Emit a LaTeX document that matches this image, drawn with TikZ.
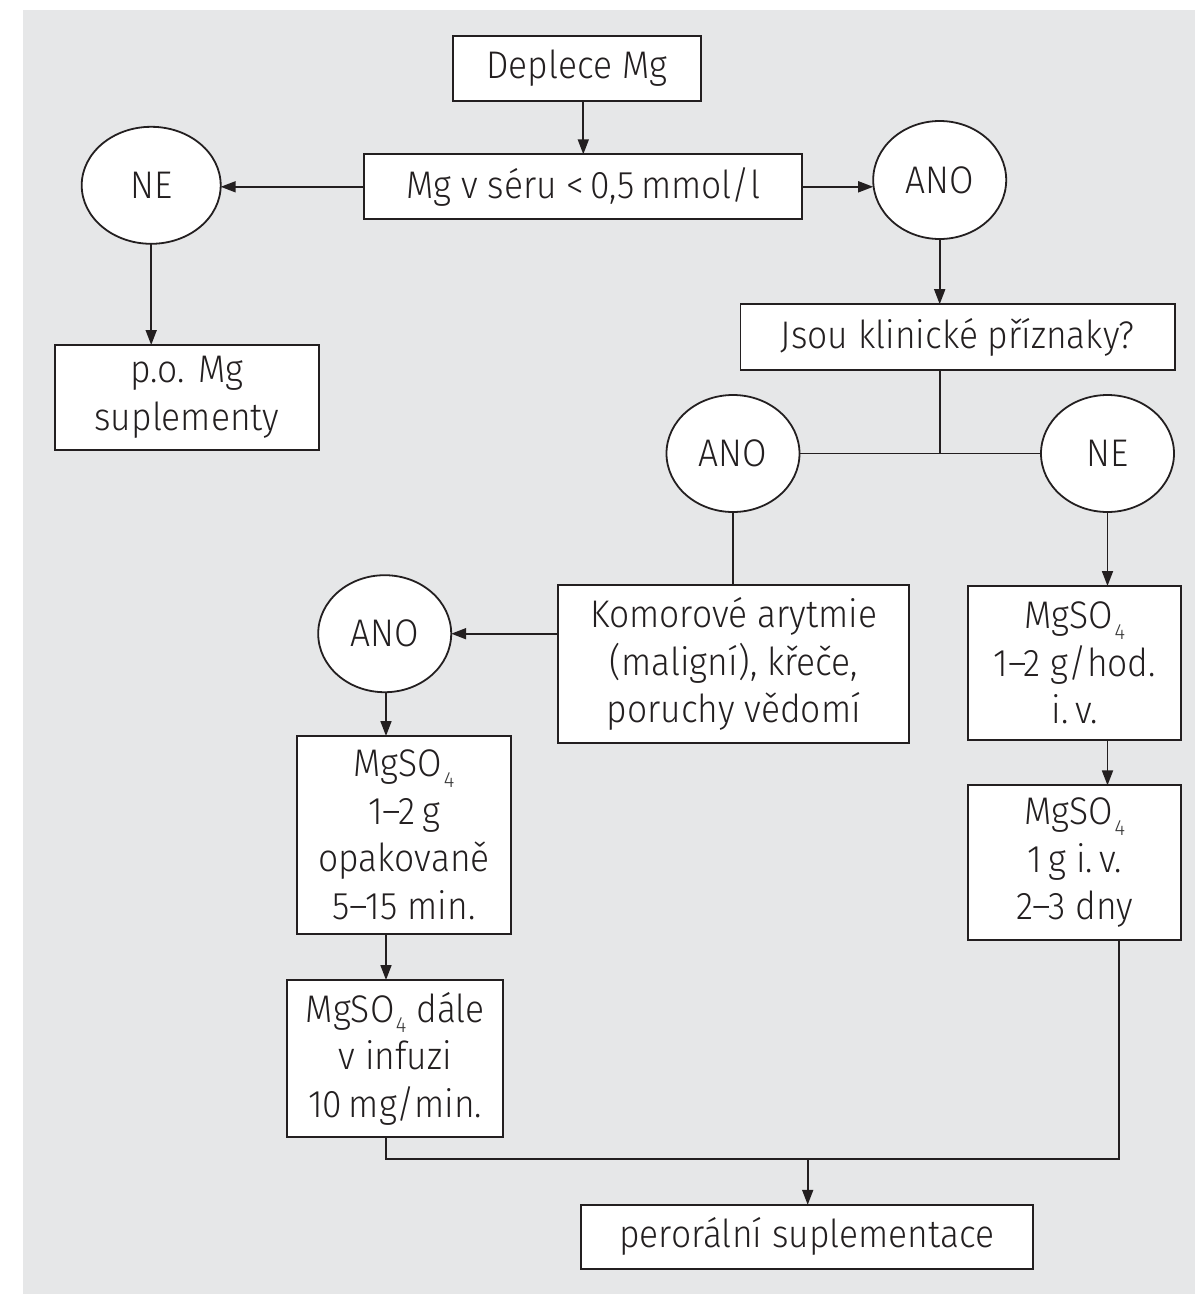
\documentclass[tikz,border=0pt]{standalone}
\usepackage{fontspec}
\setmainfont{Fira Sans Light}[FakeStretch=0.92]
\usetikzlibrary{arrows.meta,shapes.geometric,calc}
\definecolor{panelgray}{RGB}{230,231,232}
\definecolor{inkc}{RGB}{35,31,32}
\newcommand{\subfour}{\kern1.5pt\raisebox{-10.5pt}{\fontsize{22}{22}\selectfont\color{black!78}4}}
\tikzset{
  boxnode/.style={draw=inkc,line width=1.9pt,fill=white,rectangle,inner sep=0pt,outer sep=0pt,align=center,text=inkc,font=\fontsize{38.5}{47.5}\selectfont},
  ovalnode/.style={draw=inkc,line width=1.8pt,fill=white,ellipse,inner sep=0pt,outer sep=0pt,text=inkc,font=\fontsize{38.5}{47.5}\selectfont},
  conn/.style={draw=inkc,line width=1.7pt},
  arrowconn/.style={conn,-{Triangle[length=15pt,width=11pt]}}
}
\begin{document}
\begin{tikzpicture}[x=1pt,y=-1pt]
\useasboundingbox (0,0) rectangle (1195,1294);
\fill[white] (0,0) rectangle (1195,1294);
\fill[panelgray] (23,10) rectangle (1195,1294);

\node[boxnode,minimum width=248pt,minimum height=65pt] (dep) at (576.9,68.5) {Deplece Mg};
\node[boxnode,minimum width=438pt,minimum height=65pt] (mgs) at (583.3,186.8) {Mg v séru <\,0,5\,mmol/l};
\node[ovalnode,minimum width=139pt,minimum height=117pt] (ne1) at (151.2,185.3) {NE};
\node[ovalnode,minimum width=133pt,minimum height=118pt] (ano1) at (939.7,180) {ANO};
\node[boxnode,minimum width=264pt,minimum height=105pt] (po) at (186.9,397.5) {p.o. Mg\\suplementy};
\node[boxnode,minimum width=434.5pt,minimum height=66pt] (jsou) at (957.7,337.2) {Jsou klinické příznaky?};
\node[ovalnode,minimum width=133pt,minimum height=117pt] (ano2) at (733,453.5) {ANO};
\node[ovalnode,minimum width=133pt,minimum height=117pt] (ne2) at (1107.5,453.5) {NE};
\node[boxnode,minimum width=351pt,minimum height=157.7pt] (komor) at (733.8,663.9) {Komorové arytmie\\(maligní), křeče,\\poruchy vědomí};
\node[ovalnode,minimum width=133pt,minimum height=117pt] (ano3) at (384.7,633.7) {ANO};
\node[boxnode,minimum width=212.7pt,minimum height=153.8pt] (mga) at (1074.7,662.9) {MgSO\subfour\\1–2 g/hod.\\i.\,v.};
\node[boxnode,minimum width=212.7pt,minimum height=155pt] (mgb) at (1074.7,862.9) {MgSO\subfour\\1\,g i.\,v.\\2–3 dny};
\node[boxnode,minimum width=213.4pt,minimum height=198pt] (opak) at (404,835) {MgSO\subfour\\1–2\,g\\opakovaně\\5–15 min.};
\node[boxnode,minimum width=216.4pt,minimum height=157pt] (dale) at (395.2,1058.5) {MgSO\subfour\ dále\\v infuzi\\10\,mg/min.};
\node[boxnode,minimum width=452pt,minimum height=64pt] (peror) at (806.8,1236.8) {perorální suplementace};

\coordinate (jj) at (939.8,453.5);
\coordinate (jl) at (386,1158.7);
\coordinate (jr) at (1119.3,1158.7);
\coordinate (jm) at (807.7,1158.7);

\draw[arrowconn] (mgs.north |- dep.south) -- (mgs.north);
\draw[arrowconn] (mgs.west) -- (mgs.west -| ne1.east);
\draw[arrowconn] (mgs.east) -- (mgs.east -| ano1.west);
\draw[arrowconn] (ne1.south) -- (ne1.south |- po.north);
\draw[arrowconn] (ano1.south) -- (ano1.south |- jsou.north);
\draw[conn] (jsou.south -| jj) -- (jj);
\draw[conn] (ano2.east) -- (ne2.west);
\draw[conn] (ano2.south) -- (ano2.south |- komor.north);
\draw[arrowconn] (komor.west |- ano3.east) -- (ano3.east);
\draw[arrowconn] (ne2.south) -- (ne2.south |- mga.north);
\draw[arrowconn] (mga.south -| ne2.south) -- (mgb.north -| ne2.south);
\draw[arrowconn] (ano3.south -| jl) -- (opak.north -| jl);
\draw[arrowconn] (opak.south -| jl) -- (dale.north -| jl);
\draw[conn] (dale.south -| jl) -- (jl) -- (jr) -- (mgb.south -| jr);
\draw[arrowconn] (jm) -- (peror.north -| jm);
\end{tikzpicture}
\end{document}
